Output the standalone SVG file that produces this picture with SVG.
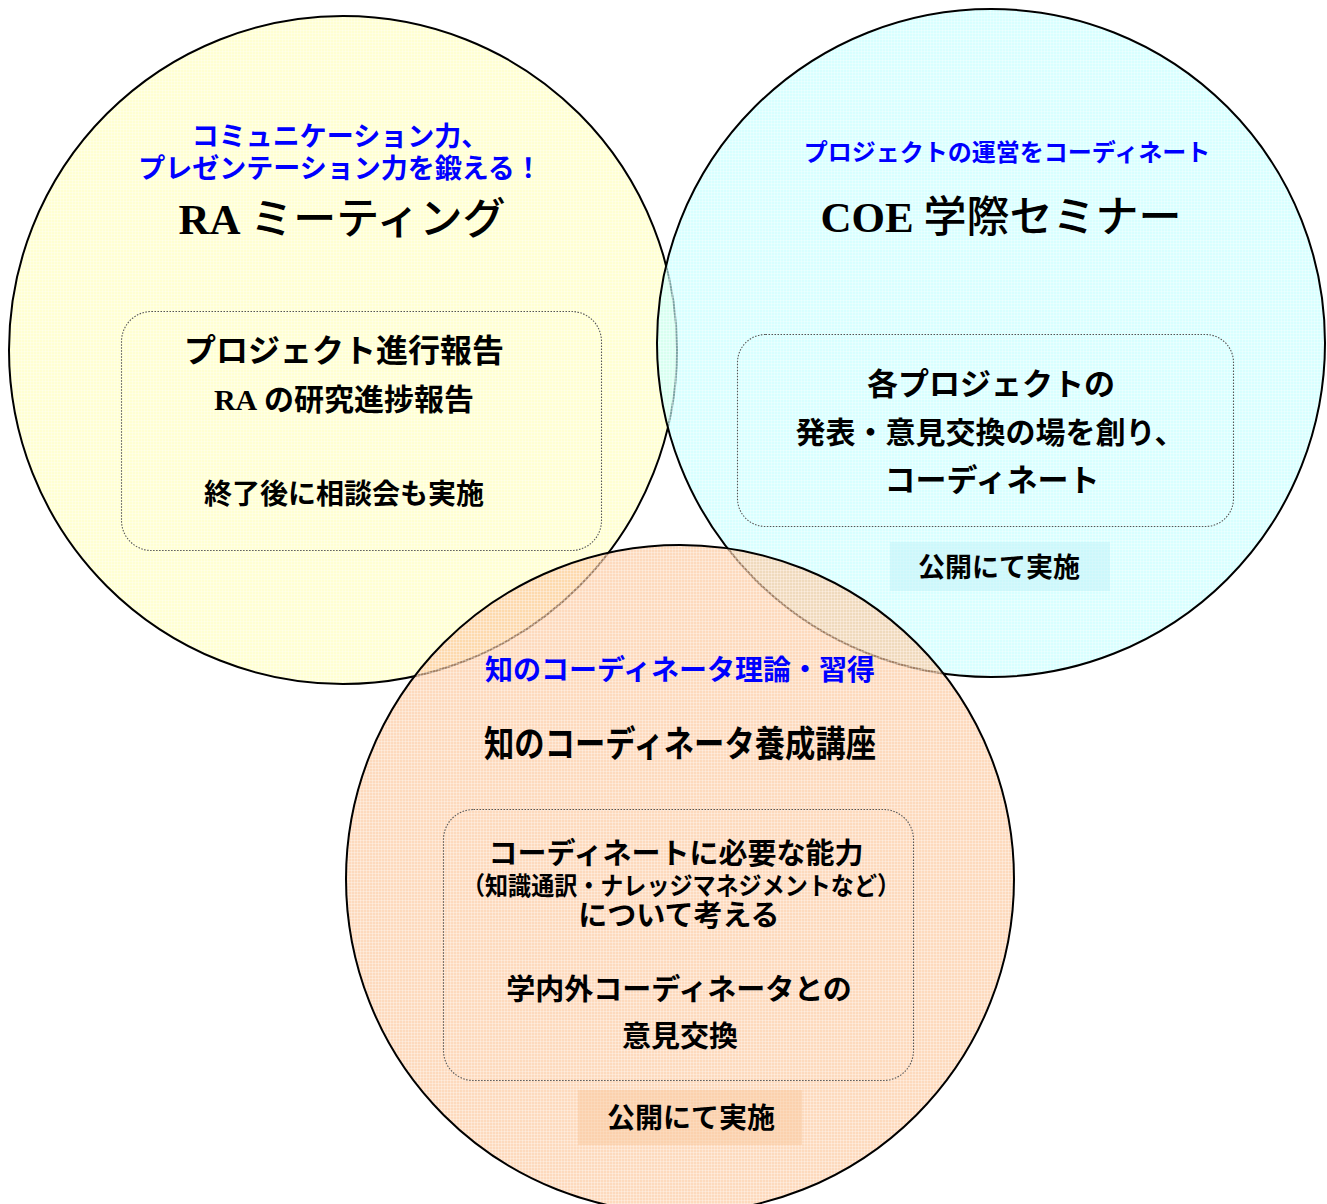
<svg xmlns="http://www.w3.org/2000/svg" width="1327" height="1204" viewBox="0 0 1327 1204">
<defs>
<pattern id="grid" width="3" height="3" patternUnits="userSpaceOnUse">
<rect x="0" y="0" width="3" height="1" fill="#ffffff" fill-opacity="0.3"/>
<rect x="0" y="0" width="1" height="3" fill="#ffffff" fill-opacity="0.3"/>
</pattern>
<style>
.ring{fill:none;stroke:#000;stroke-width:2}
.box{fill:none;stroke:#555;stroke-width:1.1;stroke-dasharray:1.5 1.5}
.t{font-family:"Noto Sans CJK JP","Noto Sans CJK SC",sans-serif;text-anchor:middle;fill:#000}
.b{font-weight:700}
.blue{fill:#0000ff;font-weight:700}
.serif{font-family:"Liberation Serif","Noto Serif CJK JP",serif;font-weight:700}
</style>
</defs>
<rect width="1327" height="1204" fill="#ffffff"/>

<g id="ra-meeting">
<circle cx="343" cy="350" r="334" fill="#FFFFB8" fill-opacity="0.64"/>
<circle cx="343" cy="350" r="334" fill="url(#grid)"/>
<circle class="ring" cx="343" cy="350" r="334"/>
</g>

<g id="coe-seminar">
<circle cx="991" cy="343" r="334" fill="#C2FFFF" fill-opacity="0.64"/>
<circle cx="991" cy="343" r="334" fill="url(#grid)"/>
<circle class="ring" cx="991" cy="343" r="334"/>
</g>

<g id="coordinator-course">
<circle cx="680" cy="879" r="334" fill="#FCC597" fill-opacity="0.64"/>
<circle cx="680" cy="879" r="334" fill="url(#grid)"/>
<circle class="ring" cx="680" cy="879" r="334"/>
</g>

<g id="ra-meeting-text">
<text class="t blue" x="340" y="146" font-size="27">コミュニケーション力、</text>
<text class="t blue" x="340" y="178" font-size="27">プレゼンテーション力を鍛える！</text>
<text class="t" x="342" y="234" font-size="43" font-weight="500"><tspan class="serif" font-weight="400">RA</tspan> ミーティング</text>
<rect class="box" x="121.5" y="311.5" width="480" height="239" rx="30"/>
<text class="t b" x="344" y="362" font-size="32">プロジェクト進行報告</text>
<text class="t b" x="344" y="410" font-size="30"><tspan class="serif">RA</tspan> の研究進捗報告</text>
<text class="t b" x="344" y="504" font-size="28">終了後に相談会も実施</text>
</g>

<g id="coe-seminar-text">
<text class="t blue" x="1007" y="161" font-size="24">プロジェクトの運営をコーディネート</text>
<text class="t" x="1001" y="232" font-size="43" font-weight="500"><tspan class="serif" font-weight="400">COE</tspan> 学際セミナー</text>
<rect class="box" x="737.5" y="334.5" width="496" height="192" rx="28"/>
<text class="t b" x="991" y="395" font-size="31">各プロジェクトの</text>
<text class="t b" x="990" y="443" font-size="30">発表・意見交換の場を創り、</text>
<text class="t b" x="992" y="491" font-size="31">コーディネート</text>
<rect x="890" y="542" width="220" height="49" fill="#BFF0F6" fill-opacity="0.45"/>
<text class="t b" x="999" y="577" font-size="27">公開にて実施</text>
</g>

<g id="coordinator-course-text">
<text class="t blue" x="680" y="680" font-size="28">知のコーディネータ理論・習得</text>
<text class="t b" x="680" y="757" font-size="36" textLength="392" lengthAdjust="spacingAndGlyphs">知のコーディネータ養成講座</text>
<rect class="box" x="443.5" y="809.5" width="470" height="271" rx="30"/>
<text class="t b" x="676" y="864" font-size="29">コーディネートに必要な能力</text>
<text class="t b" x="681" y="895" font-size="25" textLength="438" lengthAdjust="spacingAndGlyphs">（知識通訳・ナレッジマネジメントなど）</text>
<text class="t b" x="679" y="926" font-size="29">について考える</text>
<text class="t b" x="679" y="1000" font-size="29">学内外コーディネータとの</text>
<text class="t b" x="680" y="1047" font-size="29">意見交換</text>
<rect x="578" y="1090" width="224" height="55" fill="#F8C59A" fill-opacity="0.45"/>
<text class="t b" x="691" y="1128" font-size="28">公開にて実施</text>
</g>

<g id="connectors"></g>
</svg>
